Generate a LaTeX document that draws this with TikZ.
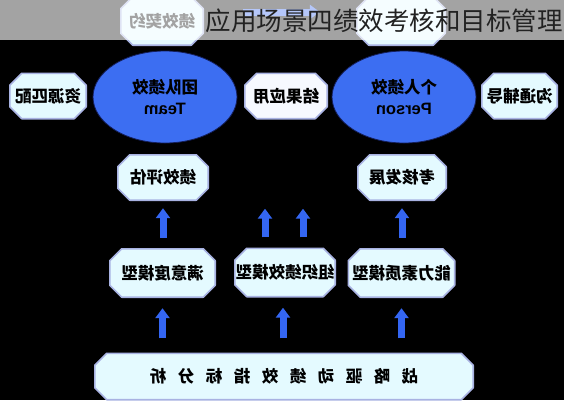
\documentclass[tikz,border=0pt]{standalone}
\usepackage{fontspec}
\setmainfont{Noto Sans CJK SC}
\newfontfamily\lat{Liberation Sans}
\usepackage{graphicx}
\usetikzlibrary{arrows.meta,shapes.geometric}
\pgfdeclarelayer{back}
\pgfdeclarelayer{bg}
\pgfdeclarelayer{top}
\pgfsetlayers{back,bg,main,top}
\definecolor{boxfill}{RGB}{228,250,255}
\definecolor{boxfillw}{RGB}{246,249,255}
\definecolor{boxline}{RGB}{168,178,226}
\definecolor{ellfill}{RGB}{60,110,242}
\definecolor{ellline}{RGB}{20,30,90}
\definecolor{arr}{RGB}{52,102,242}
\definecolor{titlecol}{RGB}{34,34,34}
\newcommand\mir[1]{\scalebox{-1}[1]{#1}}
\newcommand\octo[2]{\begin{pgfonlayer}{bg}\path[octline,fill=#2] ([xshift=12pt]#1.north west) -- ([xshift=-12pt]#1.north east) -- ([yshift=-12pt]#1.north east) -- ([yshift=12pt]#1.south east) -- ([xshift=-12pt]#1.south east) -- ([xshift=12pt]#1.south west) -- ([yshift=12pt]#1.south west) -- ([yshift=-12pt]#1.north west) -- cycle;\end{pgfonlayer}}
\newcommand\gapsp{\hspace{11.5pt}}
\tikzset{
  txtbox/.style={rectangle, inner sep=0pt, text=black, font=\bfseries\fontsize{16.5}{18}\selectfont},
  ell/.style={ellipse, draw=ellline, line width=0.8pt, fill=ellfill, minimum width=144pt, minimum height=92pt, inner sep=0pt, align=center, text=black, font=\bfseries\fontsize{16.5}{20}\selectfont},
  uparr/.style={draw=arr, line width=7pt, -{Triangle[width=14pt,length=10pt]}},
  octline/.style={draw=boxline, line width=1.6pt, line join=round}
}
\begin{document}
\begin{tikzpicture}[x=1pt,y=-1pt]
\useasboundingbox (0,0) rectangle (564,400);
\begin{pgfonlayer}{back}
\fill[black] (0,0) rectangle (564,400);
\end{pgfonlayer}
% top row (under banner)
\node[txtbox, minimum width=82pt, minimum height=48pt] (t1) at (162,21) {\mir{绩效契约}};
\node[txtbox, minimum width=88pt, minimum height=48pt] (t2) at (401,21) {};
\octo{t1}{boxfill}\octo{t2}{boxfill}
% row 2
\node[txtbox, minimum width=76pt, minimum height=45pt] (r1) at (48,96) {\mir{资源匹配}};
\node[ell] (team) at (165,97) {\mir{团队绩效}\\[1pt]\mir{\lat Team}};
\node[txtbox, minimum width=82pt, minimum height=45pt] (res) at (286,96) {\mir{结果应用}};
\node[ell] (person) at (404,97) {\mir{个人绩效}\\[1pt]\mir{\lat Person}};
\node[txtbox, minimum width=75pt, minimum height=45pt] (r3) at (519.5,96) {\mir{沟通辅导}};
\octo{r1}{boxfill}\octo{res}{boxfillw}\octo{r3}{boxfill}
% row 3
\node[txtbox, minimum width=90pt, minimum height=45pt] (e1) at (163,177.5) {\mir{绩效评估}};
\node[txtbox, minimum width=88pt, minimum height=45pt] (e2) at (402,177.5) {\mir{考核发展}};
\octo{e1}{boxfill}\octo{e2}{boxfill}
% row 4
\node[txtbox, minimum width=105pt, minimum height=48pt] (m1) at (162.5,273) {\mir{满意度模型}};
\node[txtbox, minimum width=100pt, minimum height=48pt] (m2) at (285,272.5) {\mir{组织绩效模型}};
\node[txtbox, minimum width=106pt, minimum height=48pt] (m3) at (401.5,273) {\mir{能力素质模型}};
\octo{m1}{boxfill}\octo{m2}{boxfill}\octo{m3}{boxfill}
% bottom
\node[txtbox, minimum width=378pt, minimum height=46pt] (b) at (284,376.5) {\mir{战\gapsp 略\gapsp 驱\gapsp 动\gapsp 绩\gapsp 效\gapsp 指\gapsp 标\gapsp 分\gapsp 析}};
\octo{b}{boxfill}
% arrows
\draw[uparr, shorten <=15pt, shorten >=11pt] (b.north -| m1.south) -- (m1.south);
\draw[uparr, shorten <=15pt, shorten >=11pt] ([xshift=-2pt]b.north -| m2.south) -- ([xshift=-2pt]m2.south);
\draw[uparr, shorten <=15pt, shorten >=11pt] (b.north -| m3.south) -- (m3.south);
\draw[uparr, shorten <=11pt, shorten >=8pt] (m1.north -| e1.south) -- (e1.south);
\draw[uparr, shorten <=11pt, shorten >=8pt] (m3.north -| e2.south) -- (e2.south);
\draw[uparr, shorten <=11pt, shorten >=90pt] ([xshift=-20pt]m2.north) -- ([xshift=-20pt]m2.north |- res.south);
\draw[uparr, shorten <=11pt, shorten >=90pt] ([xshift=18pt]m2.north) -- ([xshift=18pt]m2.north |- res.south);
\draw[uparr, shorten <=40pt, shorten >=37pt] ([yshift=9pt]t1.east) -- ([yshift=9pt]t2.west);
% banner
\begin{pgfonlayer}{top}
\fill[white, opacity=0.64] (0,0) rectangle (564,40);
\node[anchor=base east, inner sep=0pt, text=titlecol, font=\fontsize{25.5}{30}\selectfont] (title) at (563,30) {应用场景四绩效考核和目标管理};
\end{pgfonlayer}
\end{tikzpicture}
\end{document}
